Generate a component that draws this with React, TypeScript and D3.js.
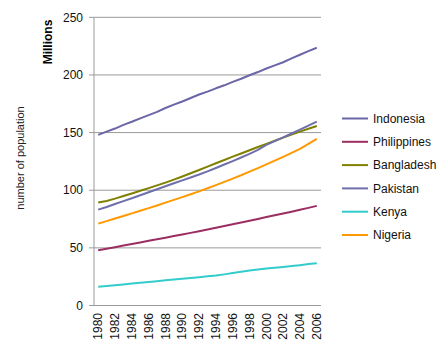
import React from "react";
import * as d3 from "d3";

const years: number[] = d3.range(1980, 2007);
const seriesNames = ["Indonesia", "Philippines", "Bangladesh", "Pakistan", "Kenya", "Nigeria"];
const colors = ["#6a66a8", "#9b2d62", "#808000", "#6f6fab", "#33cccc", "#ff9900"];

const indonesia = [148.0, 150.8, 153.5, 156.7, 159.4, 162.3, 165.2, 168.0, 171.3, 174.2, 177.0, 180.0, 183.0, 185.5, 188.4, 191.0, 194.0, 196.7, 199.7, 202.5, 205.6, 208.3, 211.0, 214.3, 217.5, 220.6, 223.6];
const philippines = [48.0, 49.3, 50.6, 52.0, 53.3, 54.7, 56.1, 57.5, 58.8, 60.2, 61.6, 63.0, 64.4, 65.9, 67.4, 68.9, 70.5, 72.0, 73.6, 75.1, 76.7, 78.3, 79.8, 81.4, 83.0, 84.7, 86.4];
const bangladesh = [89.3, 90.6, 92.7, 95.0, 97.2, 99.5, 101.8, 104.2, 106.6, 109.2, 111.9, 114.7, 117.5, 120.5, 123.4, 126.2, 129.1, 131.9, 134.7, 137.5, 140.2, 142.9, 145.6, 148.2, 150.8, 153.3, 155.7];
const pakistan = [83.2, 85.5, 88.0, 90.5, 93.0, 95.6, 98.2, 100.8, 103.4, 106.0, 108.5, 111.0, 113.6, 116.4, 119.3, 122.3, 125.3, 128.4, 131.6, 135.0, 139.3, 142.6, 145.9, 149.2, 152.6, 156.0, 159.5];
const kenya = [16.2, 16.9, 17.6, 18.3, 19.0, 19.7, 20.4, 21.1, 21.8, 22.5, 23.2, 23.9, 24.6, 25.3, 26.0, 27.0, 28.1, 29.2, 30.3, 31.2, 32.0, 32.7, 33.4, 34.2, 35.0, 35.9, 36.7];
const nigeria = [71.0, 73.2, 75.5, 77.6, 79.9, 82.2, 84.5, 86.8, 89.2, 91.6, 94.0, 96.5, 99.0, 101.7, 104.4, 107.2, 110.1, 113.0, 116.1, 119.2, 122.4, 125.7, 129.0, 132.4, 135.9, 140.2, 144.5];

const seriesValues = [indonesia, philippines, bangladesh, pakistan, kenya, nigeria];
const yTicks = [0, 50, 100, 150, 200, 250];
const xLabels = years.filter((y) => y % 2 === 0);

const FONT = "'Liberation Sans', Arial, sans-serif";

export default function App() {
  const left = 94, right = 321, top = 17.3, bottom = 305.5;
  const x = d3.scaleBand<number>().domain(years).range([left, right]).padding(0);
  const cx = (yr: number) => (x(yr) as number) + x.bandwidth() / 2;
  const y = d3.scaleLinear().domain([0, 250]).range([bottom, top]);
  const line = d3
    .line<number>()
    .x((_, i) => cx(years[i]))
    .y((d) => y(d));

  return (
    <svg width={445} height={344} style={{ position: "absolute", left: 0, top: 0 }} fontFamily={FONT}>
      <rect width={445} height={344} fill="#fff" />
      {yTicks.map((t) => (
        <g key={t}>
          {t > 0 && <line x1={left} x2={right} y1={y(t)} y2={y(t)} stroke="#9a9a9a" strokeWidth={1} />}
          <line x1={left - 5} x2={left} y1={y(t)} y2={y(t)} stroke="#9a9a9a" strokeWidth={1} />
          <text x={83} y={y(t)} dy="0.35em" textAnchor="end" fontSize={12} fill="#111">
            {t}
          </text>
        </g>
      ))}
      <line x1={left} x2={left} y1={top} y2={bottom} stroke="#9a9a9a" strokeWidth={1} />
      <line x1={left} x2={right} y1={bottom} y2={bottom} stroke="#9a9a9a" strokeWidth={1} />
      {seriesValues.map((vals, i) => (
        <path key={seriesNames[i]} d={line(vals) || ""} fill="none" stroke={colors[i]} strokeWidth={2} strokeLinejoin="round" />
      ))}
      {xLabels.map((yr) => (
        <text
          key={yr}
          transform={`translate(${cx(yr)},${313}) rotate(-90)`}
          dy="0.35em"
          textAnchor="end"
          fontSize={12}
          fill="#111"
        >
          {yr}
        </text>
      ))}
      <text transform="translate(48,42) rotate(-90)" dy="0.35em" textAnchor="middle" fontSize={12} fontWeight="bold" fill="#000">
        Millions
      </text>
      <text transform="translate(20,158) rotate(-90)" dy="0.35em" textAnchor="middle" fontSize={11} fill="#222">
        number of population
      </text>
      {seriesNames.map((name, i) => {
        const ly = 118.5 + i * 23.3;
        return (
          <g key={name}>
            <line x1={342} x2={368} y1={ly} y2={ly} stroke={colors[i]} strokeWidth={2} />
            <text x={373} y={ly} dy="0.35em" fontSize={12} fill="#111">
              {name}
            </text>
          </g>
        );
      })}
    </svg>
  );
}
